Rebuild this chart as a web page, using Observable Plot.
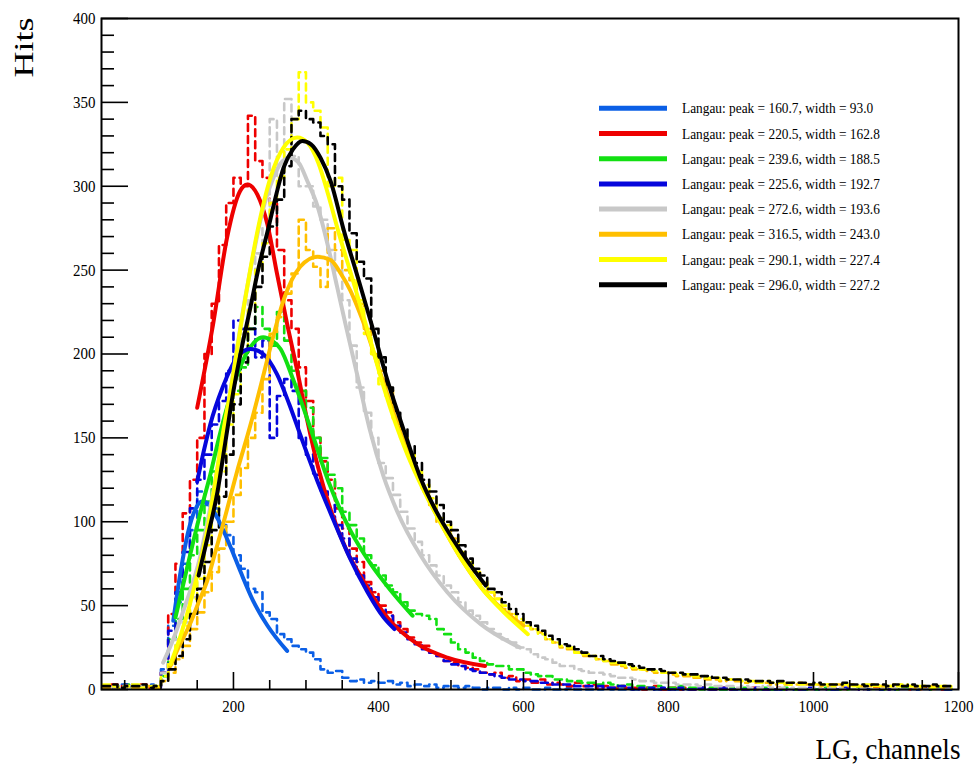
<!DOCTYPE html>
<html><head><meta charset="utf-8">
<script src="https://cdn.jsdelivr.net/npm/d3@7"></script>
<script src="https://cdn.jsdelivr.net/npm/@observablehq/plot@0.6"></script>
<style>
body{margin:0;background:#fff;}
#chart{position:relative;width:979px;height:768px;}
</style></head><body><div id="chart"></div>
<script>
// ---- data ----
const binLeft = [20,30,40,50,60,70,80,90,
100,110,120,130,140,150,160,170,180,190,
200,210,220,230,240,250,260,270,280,290,
300,310,320,330,340,350,360,370,380,390,
400,410,420,430,440,450,460,470,480,490,
500,510,520,530,540,550,560,570,580,590,
600,610,620,630,640,650,660,670,680,690,
700,710,720,730,740,750,760,770,780,790,
800,810,820,830,840,850,860,870,880,890,
900,910,920,930,940,950,960,970,980,990,
1000,1010,1020,1030,1040,1050,1060,1070,1080,1090,
1100,1110,1120,1130,1140,1150,1160,1170,1180,1190];

const h1 = [2,1,3,2,1,2,3,2,
12,38,52,75,95,118,110,108,98,92,
80,72,60,58,46,42,33,30,26,24,
22,18,12,10,11,7,5,6,4,5,
4,5,3,4,2,3,2,3,1,2,
2,1,2,1,0,1,1,0,1,0,
1,0,0,1,0,0,1,0,0,0,
0,1,0,0,0,0,0,1,0,0,
0,0,0,0,1,0,0,0,0,0,
0,0,0,0,0,0,0,0,0,0,
0,0,0,0,0,0,0,0,0,0,
0,0,0,0,0,0,0,0,0,0];

const h2 = [1,3,2,1,2,3,1,2,
10,45,75,105,125,150,200,230,265,290,
305,300,342,315,305,290,262,232,215,192,
172,150,136,125,108,96,84,76,64,58,
50,46,40,36,31,28,26,22,20,17,
16,14,13,12,10,9,10,7,8,5,
6,4,6,3,4,3,2,4,2,3,
1,2,1,2,1,1,0,1,2,0,
1,0,1,0,1,0,0,1,0,0,
0,1,0,0,0,1,0,0,0,0,
0,0,1,0,0,0,0,0,1,0,
0,0,0,0,0,1,0,0,0,0];

const h3 = [2,1,2,3,1,2,1,2,
8,30,42,60,80,95,112,130,150,165,
178,192,215,228,215,205,225,208,190,178,
168,150,138,128,120,106,98,90,80,74,
68,62,58,52,47,45,44,42,36,33,
28,24,22,19,17,15,14,14,12,12,
10,9,8,8,6,6,5,5,4,4,
3,4,3,2,3,2,2,1,2,1,
1,2,1,1,0,1,1,0,1,0,
1,0,0,1,0,0,1,0,0,0,
0,1,0,0,0,0,1,0,0,0,
0,0,1,0,0,0,0,1,0,0];

const h4 = [1,2,1,3,2,1,2,1,
10,35,58,82,108,125,140,158,172,190,
220,215,215,198,208,150,175,185,178,150,
140,128,118,110,98,90,78,68,62,55,
48,44,38,34,30,27,24,22,20,17,
15,14,12,11,10,9,8,7,6,6,
5,5,4,4,3,3,3,2,2,2,
2,1,1,2,1,0,1,1,0,1,
0,1,0,0,1,0,0,1,0,0,
0,0,1,0,0,0,0,0,0,1,
0,0,0,0,1,0,0,0,0,0,
0,0,0,0,0,0,1,0,0,0];

const h5 = [2,1,2,1,3,2,1,2,
10,15,30,40,55,70,90,112,135,160,
185,212,232,260,275,340,305,352,318,300,
300,288,280,262,250,232,205,180,165,150,
135,126,116,106,96,88,80,74,68,62,
58,52,47,44,40,36,33,30,28,25,
24,21,19,18,16,14,14,12,11,10,
10,9,8,7,7,6,5,5,4,4,
4,3,3,3,2,3,2,2,2,1,
2,1,1,2,1,1,0,1,1,0,
1,0,1,1,0,0,1,0,0,1,
0,1,0,0,1,0,0,0,1,0];

const h6 = [1,2,1,2,1,1,2,1,
5,10,18,26,36,46,58,70,84,100,
116,132,150,165,185,212,222,236,248,280,
262,252,240,275,262,250,244,230,215,200,
190,180,162,150,140,128,118,110,100,98,
90,80,75,70,63,58,54,48,45,40,
38,36,34,30,28,25,24,22,20,20,
18,17,15,14,13,12,12,11,10,10,
9,8,8,7,7,6,6,5,6,5,
4,5,4,4,3,4,3,3,4,3,
3,2,3,3,2,3,2,2,3,2,
2,3,2,2,1,2,2,1,2,2];

const h7 = [3,2,1,2,3,1,2,2,
8,15,26,38,54,66,86,106,130,158,
176,200,226,250,266,290,305,322,340,368,
350,345,335,300,305,268,262,232,212,200,
182,175,160,150,140,130,122,114,102,98,
90,82,76,70,64,58,54,50,45,42,
38,36,33,30,28,26,25,22,21,20,
18,17,16,15,14,13,12,12,11,10,
10,9,9,8,8,7,7,6,6,6,
5,5,4,5,4,4,3,4,3,3,
3,3,2,3,3,2,2,3,2,2,
2,2,3,2,2,2,1,2,2,1];

const h8 = [2,3,1,2,2,3,1,2,
5,12,20,30,45,60,76,95,115,140,
170,195,215,240,258,276,292,312,340,345,
340,338,330,325,300,292,272,255,245,215,
198,180,166,155,145,135,125,118,110,100,
95,86,78,72,68,60,58,52,48,45,
40,38,35,32,30,27,26,24,22,20,
20,18,17,16,15,14,13,12,12,11,
10,10,9,9,8,8,7,7,6,6,
6,5,5,5,4,5,4,4,4,3,
4,3,3,3,4,3,3,2,3,3,
2,3,2,3,2,2,3,2,2,3];

const fit1 = [[117,41],[127,70],[137,93],[147,107],[157,112],[167,110],[178,102],[196,85],[210,70],[227,53],[247,38],[274,23]];
const fit2 = [[150,168],[172,218],[191,269],[209,297],[219,301],[233,295],[247,277],[260,248],[274,218],[288,190],[302,160],[317,132],[335,106],[357,82],[379,65],[412,43],[454,27],[495,19],[547,14]];
const fit3 = [[120,43],[132,65],[145,89],[157,110],[168,128],[180,150],[191,168],[209,192],[223,204],[241,210],[253,208],[265,203],[283,184],[306,156],[331,124],[361,95],[389,75],[417,59],[447,44]];
const fit4 = [[150,124],[159,142],[168,158],[185,180],[205,198],[223,203],[241,200],[260,188],[277,170],[292,152],[316,124],[337,102],[361,78],[385,58],[407,43],[422,36]];
const fit5 = [[103,16],[117,30],[131,47],[154,79],[166,104],[178,132],[190,162],[202,195],[214,228],[226,256],[240,285],[255,305],[268,315],[278,317],[290,314],[302,303],[316,288],[330,265],[343,240],[356,215],[371,187],[388,155],[407,127],[426,106],[458,80],[495,58],[541,39],[595,25]];
const fit6 = [[113,14],[122,23],[140,39],[152,52],[164,65],[175,82],[186,99],[205,130],[223,157],[237,180],[251,204],[269,232],[292,252],[316,258],[334,256],[348,248],[361,238],[371,228],[385,212],[400,192],[420,166],[440,142],[462,120],[490,96],[517,76],[545,59],[573,47],[600,38]];
const fit7 = [[113,15],[127,32],[140,51],[152,72],[164,95],[175,124],[186,154],[196,178],[214,227],[233,273],[251,305],[269,323],[288,329],[302,326],[317,314],[330,296],[344,274],[364,245],[385,214],[406,182],[424,158],[440,140],[462,119],[490,96],[517,76],[545,59],[573,46],[606,33]];
const fit8 = [[152,68],[165,92],[178,118],[189,148],[200,178],[212,205],[223,227],[235,252],[247,273],[259,295],[269,311],[282,322],[295,327],[307,325],[320,317],[334,303],[352,274],[372,245],[393,214],[414,182],[437,152],[459,125],[480,106],[502,90],[527,74],[548,62]];

const legendLabels = [
  "Langau: peak = 160.7, width = 93.0",
  "Langau: peak = 220.5, width = 162.8",
  "Langau: peak = 239.6, width = 188.5",
  "Langau: peak = 225.6, width = 192.7",
  "Langau: peak = 272.6, width = 193.6",
  "Langau: peak = 316.5, width = 243.0",
  "Langau: peak = 290.1, width = 227.4",
  "Langau: peak = 296.0, width = 227.2"];
const colors = ["#0b5fe6","#ee0000","#12e012","#0606dc","#c8c8c8","#ffbf00","#ffff00","#000000"];

const xMajor = [200,400,600,800,1000,1200];
const xMinor = [50,100,150,250,300,350,450,500,550,650,700,750,850,900,950,1050,1100,1150];
const yMajor = [0,50,100,150,200,250,300,350,400];
const yMinor = [10,20,30,40,60,70,80,90,110,120,130,140,160,170,180,190,210,220,230,240,260,270,280,290,310,320,330,340,360,370,380,390];
const xTitle = "LG, channels";
const yTitle = "Hits";

// ---- build ----
const W = 979, H = 768, mL = 101, mR = 21, mT = 18, mB = 79;
const fw = W - mL - mR, fh = H - mT - mB;
const serif = "'Liberation Serif', 'Times New Roman', serif";

const hists = [h1,h2,h3,h4,h5,h6,h7,h8];
const fits = [fit1,fit2,fit3,fit4,fit5,fit6,fit7,fit8];
const histRows = hists.flatMap((h, s) => h.map((v, i) => ({s, x: binLeft[i], y: v})));
const fitRows = fits.flatMap((f, s) => f.map(([x, y]) => ({s, x, y})));

const marks = [];
hists.forEach((h, s) => marks.push(Plot.line(histRows.filter(d => d.s === s),
  {x: "x", y: "y", curve: "step-after", stroke: colors[s], strokeWidth: 2.6, strokeDasharray: "7,5"})));
fits.forEach((f, s) => marks.push(Plot.line(fitRows.filter(d => d.s === s),
  {x: "x", y: "y", curve: "monotone-x", stroke: colors[s], strokeWidth: 4})));
marks.push(Plot.tickX(xMinor, {x: d => d, insetTop: fh - 9, stroke: "#000", strokeWidth: 1.6}));
marks.push(Plot.tickX(xMajor, {x: d => d, insetTop: fh - 17, stroke: "#000", strokeWidth: 1.6}));
marks.push(Plot.tickY(yMinor, {y: d => d, insetRight: fw - 13, stroke: "#000", strokeWidth: 1.6}));
marks.push(Plot.tickY(yMajor, {y: d => d, insetRight: fw - 27, stroke: "#000", strokeWidth: 1.6}));
marks.push(Plot.frame({stroke: "#000", strokeWidth: 2}));
marks.push(Plot.text([yTitle], {frameAnchor: "top-left", dx: -88, dy: 59, rotate: -90, textAnchor: "start",
  fontSize: 28, fontFamily: serif, fill: "#000"}));
marks.push(Plot.text([xTitle], {frameAnchor: "bottom-right", dx: 2, dy: 69, textAnchor: "end", lineAnchor: "bottom",
  fontSize: 30, fontFamily: serif, fill: "#000"}));

const svg = Plot.plot({
  width: W, height: H,
  marginLeft: mL, marginRight: mR, marginTop: mT, marginBottom: mB,
  style: {fontFamily: serif, fontSize: "17px", color: "#000", background: "#fff"},
  x: {domain: [18, 1200], ticks: xMajor, tickSize: 0, tickPadding: 10, tickFormat: d => String(d), label: null},
  y: {domain: [0, 400], ticks: yMajor, tickSize: 0, tickPadding: 6, tickFormat: d => String(d), label: null},
  marks
});
document.getElementById("chart").appendChild(svg);

// legend
const lg = d3.select(svg).append("g").attr("class", "legend").attr("text-anchor", "start");
legendLabels.forEach((lab, i) => {
  const cy = 108.3 + i * 25.2;
  lg.append("line").attr("x1", 599).attr("x2", 667).attr("y1", cy).attr("y2", cy)
    .attr("stroke", colors[i]).attr("stroke-width", 5);
  lg.append("text").attr("x", 682).attr("y", cy + 5).attr("text-anchor", "start").text(lab)
    .attr("font-family", serif).attr("font-size", 15).attr("fill", "#000");
});

// condensed serif look (reference image is horizontally squeezed)
d3.select(svg).selectAll("text").each(function() {
  const t = this.textContent;
  const w = this.getComputedTextLength();
  let len;
  if (t === yTitle) len = 60;
  else if (t === xTitle) len = 145;
  else if (t.startsWith("Langau")) len = w * 0.89;
  else len = w * 0.88;
  this.setAttribute("textLength", len);
  this.setAttribute("lengthAdjust", "spacingAndGlyphs");
});
</script></body></html>
